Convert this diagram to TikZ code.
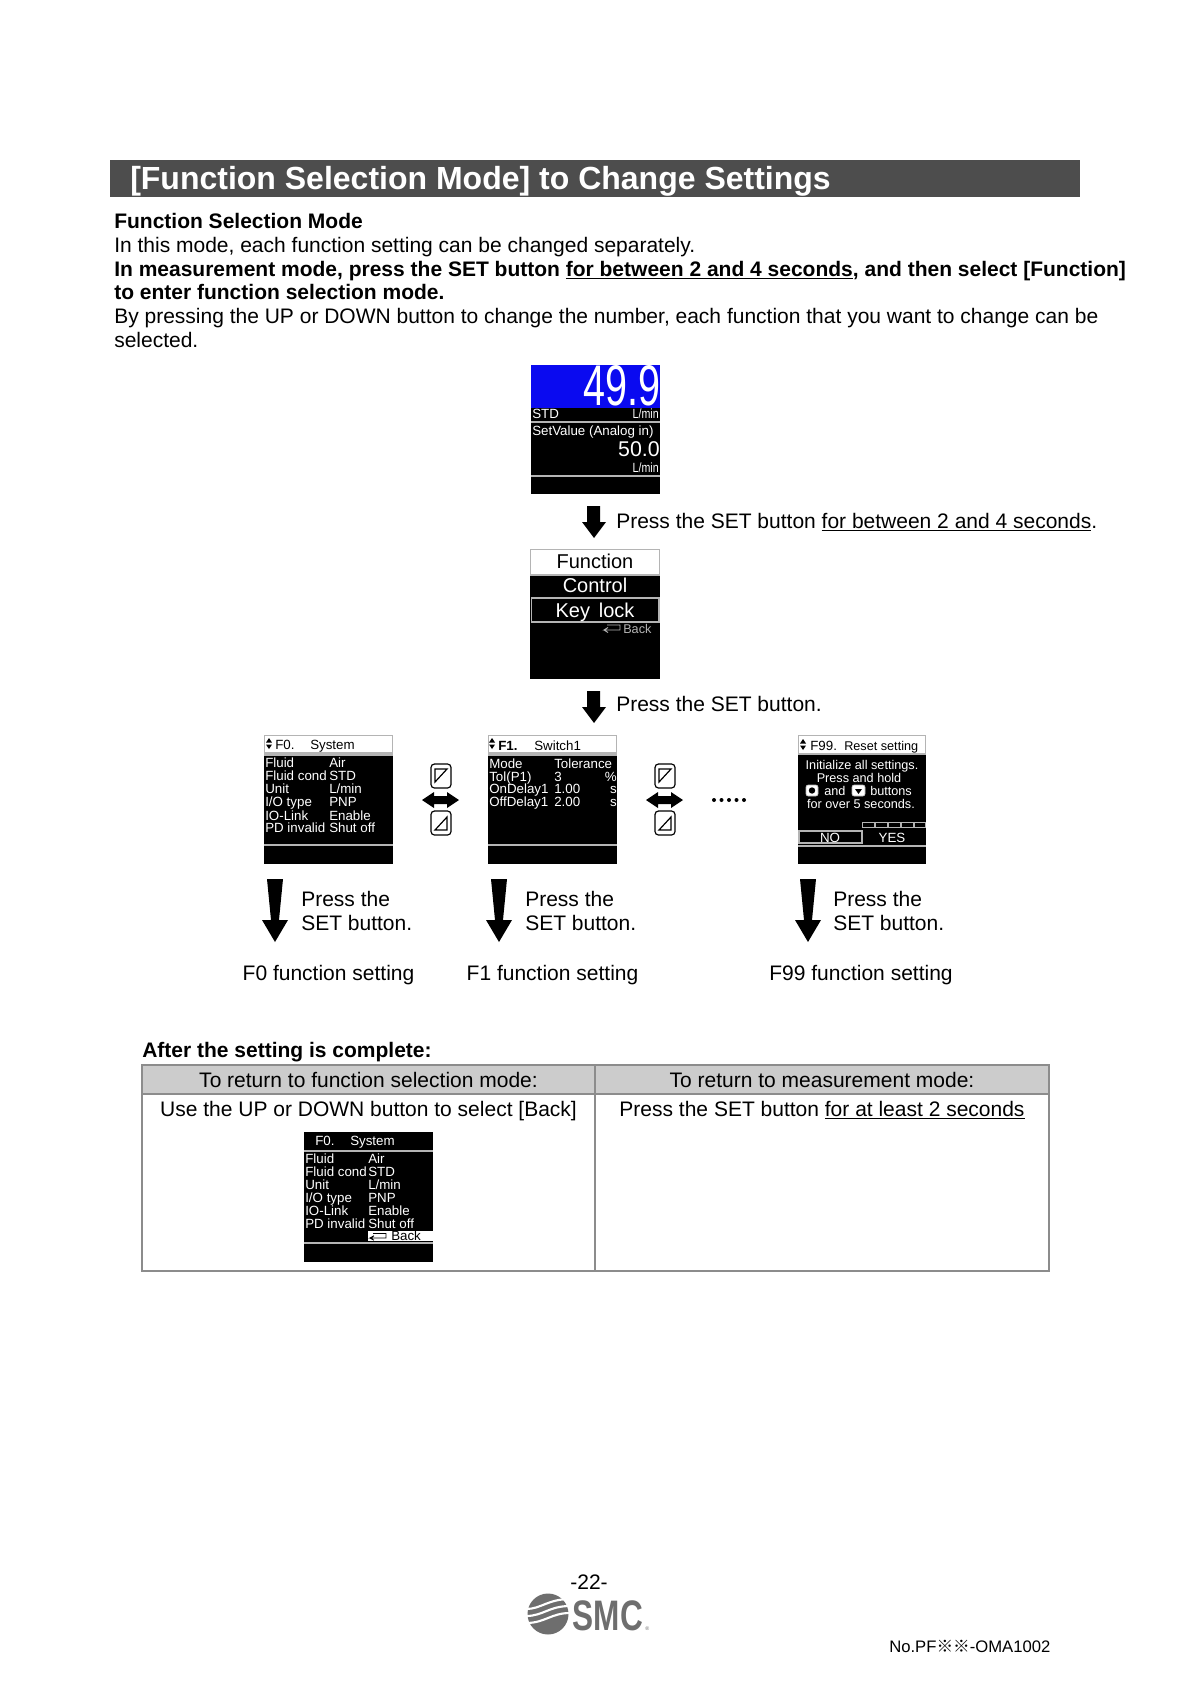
\documentclass[tikz,border=0pt]{standalone}
\usepackage{fontspec}
\setmainfont{Liberation Sans}
\newfontfamily\cjkfont{Noto Sans CJK JP}
\usepackage{xcolor}
\definecolor{barGrey}{HTML}{4D4D4D}
\definecolor{cellGrey}{HTML}{CCCCCC}
\definecolor{ruleGrey}{HTML}{8C8C8C}
\definecolor{lcdBlue}{HTML}{0A0AF0}
\definecolor{lcdLine}{HTML}{B4B4B4}
\definecolor{logoGrey}{HTML}{6E6E6E}
\tikzset{
  bodytext/.style={anchor=base west,inner sep=0pt,font=\fontsize{15.75}{19}\selectfont},
  bodymid/.style={anchor=base,inner sep=0pt,font=\fontsize{15.75}{19}\selectfont},
  lcdtext/.style={anchor=base west,inner sep=0pt,white,font=\fontsize{10}{12}\selectfont},
  lcdright/.style={lcdtext,anchor=base east},
  lcdmid/.style={lcdtext,anchor=base},
  lcdhead/.style={lcdtext,black},
  lcdbig/.style={anchor=base,inner sep=0pt,font=\fontsize{15}{18}\selectfont},
  lcdline/.style={draw=lcdLine,line width=0.9pt},
  keybox/.style={draw=black,line width=0.9pt,fill=white,rounded corners=2.6pt},
  cellrule/.style={draw=ruleGrey,line width=0.8pt}
}
\begin{document}
\begin{tikzpicture}[x=0.75pt,y=0.75pt,yscale=-1,xscale=1]
\path [fill=white] (0,0) rectangle (1191,1684);
\useasboundingbox (0,0) rectangle (1191,1684);

%Title bar
\draw [draw=none,fill=barGrey] (110,160) -- (1080,160) -- (1080,197) -- (110,197) -- cycle ;
% Text Node
\draw (130,189) node (title) [anchor=base west,inner sep=0pt,white,font=\fontsize{24}{28}\bfseries\selectfont] {[Function Selection Mode] to Change Settings};

% Text Node
\draw (114,228) node (introHead) [bodytext,font=\fontsize{15.75}{19}\bfseries\selectfont] {Function Selection Mode};
% Text Node
\draw (114,252) node (introOne) [bodytext] {In this mode, each function setting can be changed separately.};
% Text Node
\draw (114,276) node (introTwo) [bodytext,font=\fontsize{15.75}{19}\bfseries\selectfont] {In measurement mode, press the SET button \underline{for between 2 and 4 seconds}, and then select [Function]};
% Text Node
\draw (114,299.5) node (introThree) [bodytext,font=\fontsize{15.75}{19}\bfseries\selectfont] {to enter function selection mode.};
% Text Node
\draw (114,323.5) node (introFour) [bodytext] {By pressing the UP or DOWN button to change the number, each function that you want to change can be};
% Text Node
\draw (114,347) node (introFive) [bodytext] {selected.};

%Measurement screen
\draw [draw=none,fill=black] (531,365) -- (660,365) -- (660,494) -- (531,494) -- cycle ;
\draw [draw=none,fill=lcdBlue] (531,365) -- (660,365) -- (660,408) -- (531,408) -- cycle ;
\draw [lcdline] (531,422) -- (660,422) ;
\draw [lcdline] (531,476) -- (660,476) ;
% Text Node
\draw (661,405) node (flowValue) [anchor=base east,inner sep=0pt,white,font=\fontsize{43}{46}\selectfont] {\scalebox{0.69}[1]{49.9}};
% Text Node
\draw (532,418) node (stdLabel) [lcdtext] {STD};
% Text Node
\draw (659,418) node (flowUnit) [lcdright] {\scalebox{0.8}[1]{L/min}};
% Text Node
\draw (532,435) node (setLabel) [lcdtext] {SetValue (Analog in)};
% Text Node
\draw (660,456) node (setValue) [lcdright,font=\fontsize{16}{18}\selectfont] {50.0};
% Text Node
\draw (659,472) node (setUnit) [lcdright] {\scalebox{0.8}[1]{L/min}};

%Down arrow
\draw [draw=none,fill=black] (587,506) -- (600,506) -- (600,522) -- (606,522) -- (594,538) -- (582,522) -- (587,522) -- cycle ;
% Text Node
\draw (616,528) node (pressLong) [bodytext] {Press the SET button \underline{for between 2 and 4 seconds}.};

%Menu screen
\draw [draw=none,fill=black] (530,549) -- (660,549) -- (660,679) -- (530,679) -- cycle ;
\draw [draw=lcdLine,fill=white,line width=0.8pt] (530.5,549.5) -- (659.5,549.5) -- (659.5,575) -- (530.5,575) -- cycle ;
\draw [draw=lcdLine,line width=0.9pt] (531.5,598) -- (659,598) -- (659,622) -- (531.5,622) -- cycle ;
% Text Node
\draw (595,568) node (menuHead) [lcdbig] {Function};
% Text Node
\draw (595,592.5) node (menuControl) [lcdbig,white] {Control};
% Text Node
\draw (595,617) node (menuKey) [lcdbig,white] {Key\, lock};
% Text Node
\draw (623,633) node (menuBack) [lcdtext,text=lcdLine,font=\fontsize{9.5}{11}\selectfont] {Back};
%Back glyph
\draw [lcdLine,line width=0.7pt] (607,625) -- (620,625) -- (620,630) -- (604,630) -- (608,627.5) (604,630) -- (608,632.5) ;

%Down arrow
\draw [draw=none,fill=black] (587,691) -- (600,691) -- (600,707) -- (606,707) -- (594,723) -- (582,707) -- (587,707) -- cycle ;
% Text Node
\draw (616,711) node (pressShort) [bodytext] {Press the SET button.};

%F0 screen
\draw [draw=none,fill=black] (264,735) -- (393,735) -- (393,864) -- (264,864) -- cycle ;
\draw [draw=lcdLine,fill=white,line width=0.8pt] (264.5,735.5) -- (392.5,735.5) -- (392.5,753) -- (264.5,753) -- cycle ;
\draw [lcdline] (264,755) -- (393,755) ;
\draw [lcdline] (264,845) -- (393,845) ;
\draw [fill=black,draw=none] (269,738) -- (272,742.5) -- (266,742.5) -- cycle ;
\draw [fill=black,draw=none] (269,749) -- (272,744.5) -- (266,744.5) -- cycle ;
% Text Node
\draw (275,749) node (fzeroCode) [lcdhead] {F0.};
% Text Node
\draw (310,749) node (fzeroName) [lcdhead] {System};
% Text Node
\draw (265,767) node (fzeroFluid) [lcdtext] {Fluid};
% Text Node
\draw (329,767) node (fzeroFluidV) [lcdtext] {Air};
% Text Node
\draw (265,780) node (fzeroCond) [lcdtext] {Fluid cond};
% Text Node
\draw (329,780) node (fzeroCondV) [lcdtext] {STD};
% Text Node
\draw (265,793) node (fzeroUnit) [lcdtext] {Unit};
% Text Node
\draw (329,793) node (fzeroUnitV) [lcdtext] {L/min};
% Text Node
\draw (265,806) node (fzeroType) [lcdtext] {I/O type};
% Text Node
\draw (329,806) node (fzeroTypeV) [lcdtext] {PNP};
% Text Node
\draw (265,820) node (fzeroLink) [lcdtext] {IO-Link};
% Text Node
\draw (329,820) node (fzeroLinkV) [lcdtext] {Enable};
% Text Node
\draw (265,832) node (fzeroPd) [lcdtext] {PD invalid};
% Text Node
\draw (329,832) node (fzeroPdV) [lcdtext] {Shut off};

%Up key and down key, left pair
\draw [keybox] (431,764) rectangle (451,788) ;
\draw [line width=0.9pt] (435,769) -- (447,769) -- (435,782) -- cycle ;
\draw [keybox] (431,811) rectangle (451,835) ;
\draw [line width=0.9pt] (447,830) -- (435,830) -- (447,817) -- cycle ;
%Double arrow
\draw [draw=none,fill=black] (422,800) -- (434,792) -- (434,796) -- (447,796) -- (447,792) -- (459,800) -- (447,808) -- (447,804) -- (434,804) -- (434,808) -- cycle ;

%F1 screen
\draw [draw=none,fill=black] (488,735) -- (617,735) -- (617,864) -- (488,864) -- cycle ;
\draw [draw=lcdLine,fill=white,line width=0.8pt] (488.5,735.5) -- (616.5,735.5) -- (616.5,753) -- (488.5,753) -- cycle ;
\draw [lcdline] (488,755) -- (617,755) ;
\draw [lcdline] (488,845) -- (617,845) ;
\draw [fill=black,draw=none] (492,738) -- (495,742.5) -- (489,742.5) -- cycle ;
\draw [fill=black,draw=none] (492,749) -- (495,744.5) -- (489,744.5) -- cycle ;
% Text Node
\draw (498,750) node (foneCode) [lcdhead,font=\fontsize{10}{12}\bfseries\selectfont] {F1.};
% Text Node
\draw (534,750) node (foneName) [lcdhead] {Switch1};
% Text Node
\draw (489,768) node (foneMode) [lcdtext] {Mode};
% Text Node
\draw (554,768) node (foneModeV) [lcdtext] {Tolerance};
% Text Node
\draw (489,781) node (foneTol) [lcdtext] {Tol(P1)};
% Text Node
\draw (554,781) node (foneTolV) [lcdtext] {3};
% Text Node
\draw (617,781) node (foneTolU) [lcdright] {\%};
% Text Node
\draw (489,793) node (foneOn) [lcdtext] {OnDelay1};
% Text Node
\draw (554,793) node (foneOnV) [lcdtext] {1.00};
% Text Node
\draw (617,793) node (foneOnU) [lcdright] {s};
% Text Node
\draw (489,806) node (foneOff) [lcdtext] {OffDelay1};
% Text Node
\draw (554,806) node (foneOffV) [lcdtext] {2.00};
% Text Node
\draw (617,806) node (foneOffU) [lcdright] {s};

%Up key and down key, right pair
\draw [keybox] (655,764) rectangle (675,788) ;
\draw [line width=0.9pt] (659,769) -- (671,769) -- (659,782) -- cycle ;
\draw [keybox] (655,811) rectangle (675,835) ;
\draw [line width=0.9pt] (671,830) -- (659,830) -- (671,817) -- cycle ;
%Double arrow
\draw [draw=none,fill=black] (646,800) -- (658,792) -- (658,796) -- (671,796) -- (671,792) -- (683,800) -- (671,808) -- (671,804) -- (658,804) -- (658,808) -- cycle ;

%Dots
\fill (714,800) circle (2) ;
\fill (721.5,800) circle (2) ;
\fill (729,800) circle (2) ;
\fill (736.5,800) circle (2) ;
\fill (744,800) circle (2) ;

%F99 screen
\draw [draw=none,fill=black] (798,735) -- (926,735) -- (926,864) -- (798,864) -- cycle ;
\draw [draw=lcdLine,fill=white,line width=0.8pt] (798.5,735.5) -- (925.5,735.5) -- (925.5,754) -- (798.5,754) -- cycle ;
\draw [fill=black,draw=none] (803,739) -- (806,743.5) -- (800,743.5) -- cycle ;
\draw [fill=black,draw=none] (803,750) -- (806,745.5) -- (800,745.5) -- cycle ;
% Text Node
\draw (810,750) node (fendCode) [lcdhead] {F99.};
% Text Node
\draw (844,750) node (fendName) [lcdhead,font=\fontsize{9.5}{12}\selectfont] {Reset setting};
% Text Node
\draw (862,769) node (fendLineA) [lcdmid,font=\fontsize{9.5}{12}\selectfont] {Initialize all settings.};
% Text Node
\draw (859,782) node (fendLineB) [lcdmid,font=\fontsize{9.5}{12}\selectfont] {Press and hold};
%Small keys
\draw [draw=lcdLine,fill=white,rounded corners=1.5pt] (806,785) rectangle (818,796) ;
\fill (812,790.5) circle (3.2) ;
\draw [draw=lcdLine,fill=white,rounded corners=1.5pt] (852,785) rectangle (865,796) ;
\draw [fill=black,draw=none] (855,789) -- (862,789) -- (858.5,794) -- cycle ;
% Text Node
\draw (824,795) node (fendAnd) [lcdtext,font=\fontsize{9.5}{12}\selectfont] {and};
% Text Node
\draw (870,795) node (fendKeys) [lcdtext,font=\fontsize{9.5}{12}\selectfont] {buttons};
% Text Node
\draw (861,808) node (fendLineC) [lcdmid,font=\fontsize{9.5}{12}\selectfont] {for over 5 seconds.};
%Progress cells
\draw [draw=lcdLine,line width=0.7pt] (862.5,822) rectangle (874,827) ;
\draw [draw=lcdLine,line width=0.7pt] (875,822) rectangle (887,827) ;
\draw [draw=lcdLine,line width=0.7pt] (888,822) rectangle (900,827) ;
\draw [draw=lcdLine,line width=0.7pt] (901,822) rectangle (913,827) ;
\draw [draw=lcdLine,line width=0.7pt] (914,822) rectangle (925.5,827) ;
%NO box
\draw [draw=lcdLine,line width=0.9pt] (799,831) rectangle (862,843) ;
\draw [lcdline] (798,846) -- (926,846) ;
% Text Node
\draw (830,842) node (fendNo) [lcdmid] {NO};
% Text Node
\draw (892,842) node (fendYes) [lcdmid] {YES};

%Long down arrows
\draw [draw=none,fill=black] (267,879) -- (283,879) -- (279,920) -- (288,920) -- (275,942) -- (262,920) -- (271,920) -- cycle ;
\draw [draw=none,fill=black] (491,879) -- (507,879) -- (503,920) -- (512,920) -- (499,942) -- (486,920) -- (495,920) -- cycle ;
\draw [draw=none,fill=black] (800,879) -- (816,879) -- (812,920) -- (821,920) -- (808,942) -- (795,920) -- (804,920) -- cycle ;

% Text Node
\draw (301,906) node (pressZeroA) [bodytext] {Press the};
% Text Node
\draw (301,930) node (pressZeroB) [bodytext] {SET button.};
% Text Node
\draw (525,906) node (pressOneA) [bodytext] {Press the};
% Text Node
\draw (525,930) node (pressOneB) [bodytext] {SET button.};
% Text Node
\draw (833,906) node (pressEndA) [bodytext] {Press the};
% Text Node
\draw (833,930) node (pressEndB) [bodytext] {SET button.};
% Text Node
\draw (328.5,980) node (labelZero) [bodymid] {F0 function setting};
% Text Node
\draw (552.5,980) node (labelOne) [bodymid] {F1 function setting};
% Text Node
\draw (861,980) node (labelEnd) [bodymid] {F99 function setting};

% Text Node
\draw (142,1057) node (afterHead) [bodytext,font=\fontsize{15.75}{19}\bfseries\selectfont] {After the setting is complete:};

%Table
\draw [cellrule,fill=cellGrey] (142,1065) -- (595,1065) -- (595,1094) -- (142,1094) -- cycle ;
\draw [cellrule,fill=cellGrey] (595,1065) -- (1049,1065) -- (1049,1094) -- (595,1094) -- cycle ;
\draw [cellrule] (142,1094) -- (595,1094) -- (595,1271) -- (142,1271) -- cycle ;
\draw [cellrule] (595,1094) -- (1049,1094) -- (1049,1271) -- (595,1271) -- cycle ;
% Text Node
\draw (368.5,1087) node (cellLeftHead) [bodymid] {To return to function selection mode:};
% Text Node
\draw (822,1087) node (cellRightHead) [bodymid] {To return to measurement mode:};
% Text Node
\draw (368.5,1116) node (cellLeftText) [bodymid] {Use the UP or DOWN button to select [Back]};
% Text Node
\draw (822,1116) node (cellRightText) [bodymid] {Press the SET button \underline{for at least 2 seconds}};

%Back screen
\draw [draw=none,fill=black] (304,1132) -- (433,1132) -- (433,1262) -- (304,1262) -- cycle ;
\draw [lcdline] (304,1151) -- (433,1151) ;
\draw [lcdline] (304,1243) -- (433,1243) ;
\draw [draw=none,fill=white] (368,1231) -- (433,1231) -- (433,1241) -- (368,1241) -- cycle ;
% Text Node
\draw (315,1145) node (backCode) [lcdtext] {F0.};
% Text Node
\draw (350,1145) node (backName) [lcdtext] {System};
% Text Node
\draw (305,1163) node (backFluid) [lcdtext] {Fluid};
% Text Node
\draw (368,1163) node (backFluidV) [lcdtext] {Air};
% Text Node
\draw (305,1176) node (backCond) [lcdtext] {Fluid cond};
% Text Node
\draw (368,1176) node (backCondV) [lcdtext] {STD};
% Text Node
\draw (305,1189) node (backUnit) [lcdtext] {Unit};
% Text Node
\draw (368,1189) node (backUnitV) [lcdtext] {L/min};
% Text Node
\draw (305,1202) node (backType) [lcdtext] {I/O type};
% Text Node
\draw (368,1202) node (backTypeV) [lcdtext] {PNP};
% Text Node
\draw (305,1215) node (backLink) [lcdtext] {IO-Link};
% Text Node
\draw (368,1215) node (backLinkV) [lcdtext] {Enable};
% Text Node
\draw (305,1228) node (backPd) [lcdtext] {PD invalid};
% Text Node
\draw (368,1228) node (backPdV) [lcdtext] {Shut off};
% Text Node
\draw (391,1240.5) node (backBack) [lcdtext,black] {Back};
%Back glyph
\draw [black,line width=0.7pt] (373,1233.5) -- (386,1233.5) -- (386,1238) -- (370,1238) -- (374,1235.8) (370,1238) -- (374,1240.2) ;

% Text Node
\draw (589,1589) node (pageNumber) [bodymid] {-22-};

%Logo
\fill [logoGrey] (548,1614) circle (20.5) ;
\draw [white,line width=1.6pt] (526,1609) .. controls (541,1609) and (548,1599) .. (570,1599) ;
\draw [white,line width=1.6pt] (526,1616) .. controls (543,1616) and (549,1606) .. (570,1606) ;
\draw [white,line width=1.6pt] (526,1623) .. controls (545,1623) and (551,1613) .. (570,1613) ;
% Text Node
\draw (608,1630) node (logoWord) [anchor=base,inner sep=0pt,logoGrey,font=\fontsize{32}{34}\bfseries\selectfont] {\scalebox{0.74}[1]{SMC}};
% Text Node
\draw (645,1630) node (logoMark) [anchor=base west,inner sep=0pt,logoGrey,font=\fontsize{4}{5}\selectfont] {®};

% Text Node
\draw (889,1652) node (docNumber) [anchor=base west,inner sep=0pt,font=\fontsize{12.5}{15}\selectfont] {No.PF{\cjkfont ※※}-OMA1002};
\end{tikzpicture}
\end{document}
